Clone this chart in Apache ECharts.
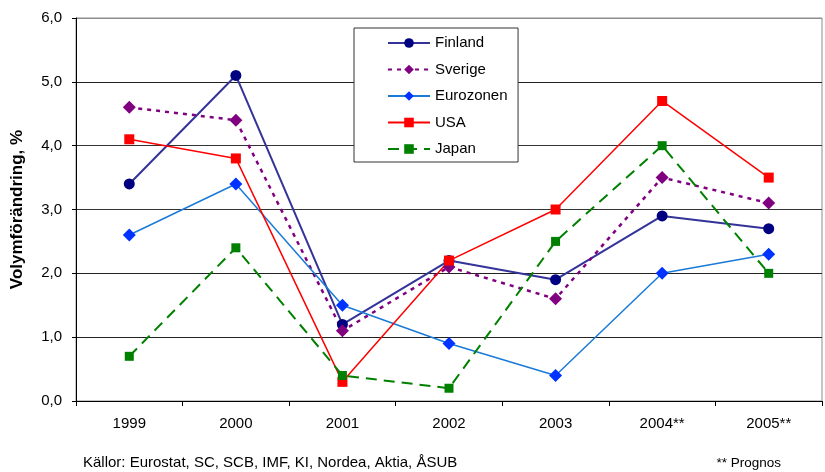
<!DOCTYPE html>
<html>
<head>
<meta charset="utf-8">
<script src="https://cdn.jsdelivr.net/npm/echarts@6/dist/echarts.min.js"></script>
<style>
  html, body { margin: 0; padding: 0; background: #fff; }
  #chart { width: 825px; height: 472px; }
</style>
</head>
<body>
<div id="chart"></div>
<script>
// Volume change (%) by year; 2004 and 2005 are forecasts
const years = ['1999', '2000', '2001', '2002', '2003', '2004**', '2005**'];
const finland   = [3.4, 5.1, 1.2, 2.2, 1.9, 2.9, 2.7];
const sverige   = [4.6, 4.4, 1.1, 2.1, 1.6, 3.5, 3.1];
const eurozonen = [2.6, 3.4, 1.5, 0.9, 0.4, 2.0, 2.3];
const usa       = [4.1, 3.8, 0.3, 2.2, 3.0, 4.7, 3.5];
const japan     = [0.7, 2.4, 0.4, 0.2, 2.5, 4.0, 2.0];
const yTicks = { min: 0, max: 6, interval: 1 };

const FONT = '"Liberation Sans", Arial, sans-serif';

const chart = echarts.init(document.getElementById('chart'), null, { renderer: 'canvas' });

function lineSeries(name, data, opt) {
  return {
    name: name,
    type: 'line',
    data: data,
    symbol: opt.symbol,
    symbolSize: opt.symbolSize,
    showAllSymbol: true,
    lineStyle: { color: opt.lineColor, width: opt.width, type: opt.type || 'solid' },
    itemStyle: { color: opt.markerColor, borderColor: opt.markerColor, borderWidth: 0 },
    emphasis: { disabled: true },
    animation: false
  };
}

chart.setOption({
  animation: false,
  backgroundColor: '#ffffff',
  textStyle: { fontFamily: FONT },
  grid: {
    left: 76, right: 3, top: 18, bottom: 71,
    show: true, borderColor: '#8c8c8c', borderWidth: 1, backgroundColor: '#ffffff'
  },
  legend: {
    orient: 'vertical',
    left: 354, top: 28,
    padding: [7.5, 10.5, 5.5, 33],
    itemWidth: 42, itemHeight: 12, itemGap: 11.5,
    borderColor: '#333', borderWidth: 1,
    backgroundColor: '#fff',
    textStyle: { fontFamily: FONT, fontSize: 15, color: '#000' },
    data: ['Finland', 'Sverige', 'Eurozonen', 'USA', 'Japan']
  },
  xAxis: {
    type: 'category',
    data: years,
    boundaryGap: true,
    axisLine: { lineStyle: { color: '#000', width: 1 } },
    axisTick: { show: true, length: 5, interval: 0, alignWithLabel: false, lineStyle: { color: '#000' } },
    axisLabel: { fontFamily: FONT, fontSize: 15, color: '#000', margin: 15, interval: 0 },
    splitLine: { show: false }
  },
  yAxis: {
    type: 'value',
    min: yTicks.min, max: yTicks.max, interval: yTicks.interval,
    name: 'Volymförändring, %',
    nameLocation: 'middle',
    nameGap: 50,
    nameTextStyle: { fontFamily: FONT, fontSize: 17, fontWeight: 'bold', color: '#000' },
    axisLine: { show: true, lineStyle: { color: '#000', width: 1 } },
    axisTick: { show: true, length: 4, lineStyle: { color: '#000' } },
    axisLabel: {
      fontFamily: FONT, fontSize: 15, color: '#000', margin: 14,
      formatter: v => v.toFixed(1).replace('.', ',')
    },
    splitLine: {
      show: true,
      lineStyle: { color: ['#222', '#222', '#222', '#333', '#333', '#222', '#8c8c8c'], width: 1 }
    }
  },
  graphic: [
    {
      type: 'text', left: 83, top: 455,
      style: { text: 'Källor: Eurostat, SC, SCB, IMF, KI, Nordea, Aktia, ÅSUB', font: '15px "Liberation Sans", Arial, sans-serif', fill: '#000' }
    },
    {
      type: 'text', right: 44, top: 456,
      style: { text: '** Prognos', font: '13.5px "Liberation Sans", Arial, sans-serif', fill: '#000' }
    }
  ],
  series: [
    lineSeries('Finland', finland, { symbol: 'circle', symbolSize: 11, lineColor: '#333399', markerColor: '#000080', width: 2 }),
    lineSeries('Sverige', sverige, { symbol: 'diamond', symbolSize: 13, lineColor: '#800080', markerColor: '#800080', width: 2.5, type: [4, 5] }),
    lineSeries('Eurozonen', eurozonen, { symbol: 'diamond', symbolSize: 13, lineColor: '#1a7ad8', markerColor: '#0033ff', width: 1.5 }),
    lineSeries('USA', usa, { symbol: 'rect', symbolSize: 10, lineColor: '#ff0000', markerColor: '#ff0000', width: 1.5 }),
    lineSeries('Japan', japan, { symbol: 'rect', symbolSize: 9, lineColor: '#008000', markerColor: '#008000', width: 2, type: [11, 7] })
  ]
});
</script>
</body>
</html>
